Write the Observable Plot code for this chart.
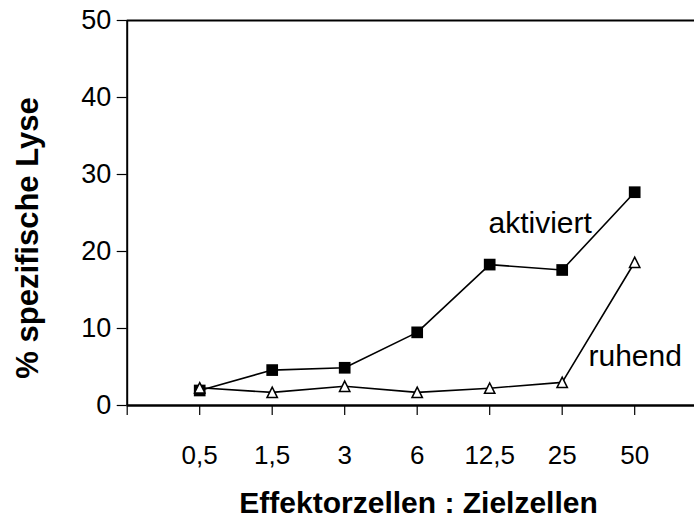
<!DOCTYPE html>
<html><head><meta charset="utf-8">
<script src="https://cdn.jsdelivr.net/npm/d3@7"></script>
<script src="https://cdn.jsdelivr.net/npm/@observablehq/plot@0.6"></script>
<style>html,body{margin:0;padding:0;background:#fff;overflow:hidden} svg{display:block}</style>
</head><body><div id="chart"></div>
<script>
// Data
const categories = ["0,5", "1,5", "3", "6", "12,5", "25", "50"];
const aktiviert = [1.95, 4.6, 4.9, 9.5, 18.3, 17.6, 27.7];
const ruhend = [2.3, 1.7, 2.5, 1.7, 2.25, 3.0, 18.6];
const yTicks = [0, 10, 20, 30, 40, 50];
const seriesNames = ["aktiviert", "ruhend"];
const xTitle = "Effektorzellen : Zielzellen";
const yTitle = "% spezifische Lyse";

const rowsA = categories.map((c, i) => ({pos: i + 1, cat: c, v: aktiviert[i]}));
const rowsR = categories.map((c, i) => ({pos: i + 1, cat: c, v: ruhend[i]}));
const lastA = [{...rowsA[rowsA.length - 1], name: seriesNames[0]}];
const lastR = [{...rowsR[rowsR.length - 1], name: seriesNames[1]}];

const openTriangle = {
  draw(context, size) {
    const k = Math.sqrt(size / Math.PI);
    context.moveTo(0, -k);
    context.lineTo(k, k);
    context.lineTo(-k, k);
    context.closePath();
  }
};

const font = "'Liberation Sans', Arial, Helvetica, sans-serif";

const chart = Plot.plot({
  width: 694,
  height: 520,
  marginLeft: 126.7,
  marginRight: 0,
  marginTop: 20,
  marginBottom: 115,
  style: {fontFamily: font, color: "black", background: "white", overflow: "visible"},
  x: {type: "linear", domain: [0, 7.825]},
  y: {domain: [0, 50]},
  marks: [
    Plot.axisY({ticks: yTicks, tickSize: 10, tickPadding: 6, fontSize: 27, label: null, strokeWidth: 1.2}),
    Plot.axisX({ticks: [0, ...categories.map((c, i) => i + 1)], tickFormat: i => categories[i - 1] ?? "",
      tickSize: 10, tickPadding: 30, fontSize: 26, label: null, strokeWidth: 1.2}),
    Plot.ruleX([0], {y1: 0, y2: 50, stroke: "black", strokeWidth: 2}),
    Plot.ruleY([0], {stroke: "black", strokeWidth: 2.6}),
    Plot.ruleY([50], {stroke: "black", strokeWidth: 2}),
    Plot.line(rowsA, {x: "pos", y: "v", stroke: "black", strokeWidth: 1.6}),
    Plot.line(rowsR, {x: "pos", y: "v", stroke: "black", strokeWidth: 1.6}),
    Plot.dot(rowsA, {x: "pos", y: "v", symbol: "square", r: 6.6, fill: "black", stroke: "none"}),
    Plot.dot(rowsR, {x: "pos", y: "v", symbol: openTriangle, r: 5.2, fill: "white", stroke: "black", strokeWidth: 1.5}),
    Plot.text(lastA, {x: "pos", y: "v", text: "name", dx: -94.5, dy: 31, fontSize: 30, textAnchor: "middle", lineAnchor: "middle", fill: "black"}),
    Plot.text(lastR, {x: "pos", y: "v", text: "name", dx: 0.5, dy: 94.4, fontSize: 30, textAnchor: "middle", lineAnchor: "middle", fill: "black"}),
    Plot.text([xTitle], {text: d => d, frameAnchor: "bottom", dx: 7.7, dy: 97.5, fontSize: 30, fontWeight: "bold", textAnchor: "middle", lineAnchor: "middle", fill: "black"}),
    Plot.text([yTitle], {text: d => d, frameAnchor: "left", rotate: -90, dx: -98.7, dy: 25, fontSize: 31, fontWeight: "bold", textAnchor: "middle", lineAnchor: "middle", fill: "black"})
  ]
});
document.getElementById("chart").appendChild(chart);
</script>
</body></html>
